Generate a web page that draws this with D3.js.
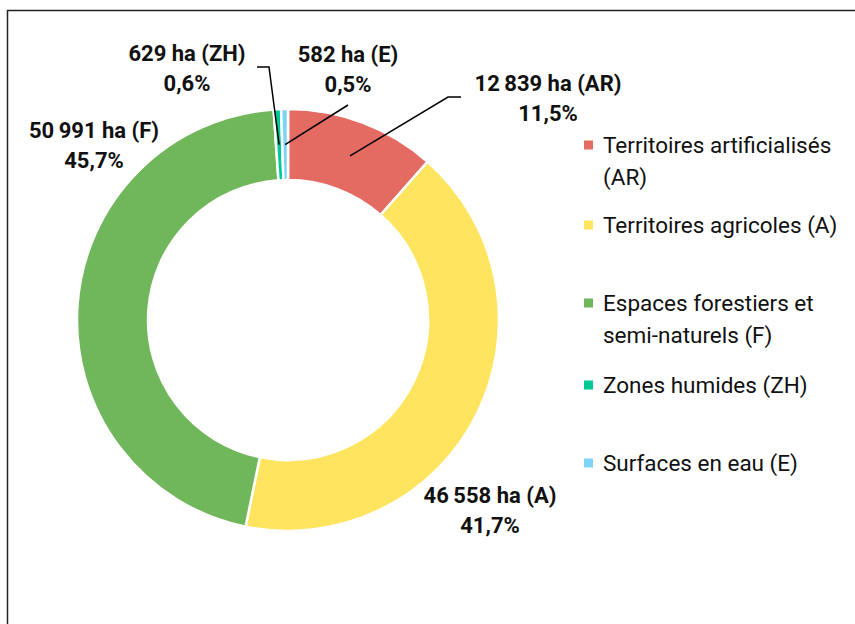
<!DOCTYPE html>
<html>
<head>
<meta charset="utf-8">
<script src="https://cdn.jsdelivr.net/npm/d3@7/dist/d3.min.js"></script>
<style>
  html, body { margin: 0; padding: 0; background: #fff; }
  svg { display: block; }
  .lbl { font-family: Roboto, "Noto Sans", sans-serif; font-weight: 700; font-size: 22px; fill: #111; }
  .leg { font-family: Roboto, "Noto Sans", sans-serif; font-size: 22.5px; fill: #111; }
</style>
</head>
<body>
<script>
// Land cover breakdown (hectares)
const codes = ["AR", "A", "F", "ZH", "E"];
const legendNames = [
  ["Territoires artificialisés", "(AR)"],
  ["Territoires agricoles (A)"],
  ["Espaces forestiers et", "semi-naturels (F)"],
  ["Zones humides (ZH)"],
  ["Surfaces en eau (E)"]
];
const hectares = [12839, 46558, 50991, 629, 582];
const colors = ["#E46B61", "#FFE55F", "#70B65A", "#00C793", "#7FD3F5"];

const W = 855, H = 624;
const cx = 288, cy = 320, rOuter = 211, rInner = 140;

const svg = d3.select("body").append("svg").attr("width", W).attr("height", H);

// chart frame
svg.append("rect")
  .attr("x", 7.5).attr("y", 10.5)
  .attr("width", 900).attr("height", 700)
  .attr("fill", "none").attr("stroke", "#222").attr("stroke-width", 1.5);

const total = d3.sum(hectares);
const data = codes.map((c, i) => ({ code: c, value: hectares[i], color: colors[i] }));

const pie = d3.pie().value(d => d.value).sort(null);
const arcs = pie(data);
const arc = d3.arc().innerRadius(rInner).outerRadius(rOuter);
const midArc = d3.arc().innerRadius((rInner + rOuter) / 2).outerRadius((rInner + rOuter) / 2);

const g = svg.append("g").attr("transform", `translate(${cx},${cy})`);
g.selectAll("path.slice").data(arcs).enter().append("path")
  .attr("class", "slice")
  .attr("d", arc)
  .attr("fill", d => d.data.color)
  .attr("stroke", "#fff")
  .attr("stroke-width", 2.5)
  .attr("stroke-linejoin", "miter");

const fmtHa = v => d3.format(",")(v).replace(/,/g, "\u2009") + " ha";
const fmtPct = v => d3.format(".1f")(v * 100).replace(".", ",") + "%";

// label anchor (centre of text block) and leader elbow, per slice
const labelPos = {
  AR: { x: 548, y: 91, leader: [[461, 97], [448, 97]] },
  A:  { x: 490, y: 503, leader: null },
  F:  { x: 94,  y: 138, leader: null },
  ZH: { x: 187, y: 61, leader: [[257, 67], [269, 67]] },
  E:  { x: 348, y: 62, leader: [[348, 105]] }
};

const line = d3.line();
arcs.forEach(a => {
  const p = labelPos[a.data.code];
  const t = svg.append("text").attr("class", "lbl").attr("text-anchor", "middle");
  t.append("tspan").attr("x", p.x).attr("y", p.y).text(`${fmtHa(a.data.value)} (${a.data.code})`);
  t.append("tspan").attr("x", p.x).attr("y", p.y + 30).text(fmtPct(a.data.value / total));
  if (p.leader) {
    const [mx, my] = midArc.centroid(a);
    const pts = p.leader.concat([[cx + mx, cy + my]]);
    svg.append("path").attr("d", line(pts))
      .attr("fill", "none").attr("stroke", "#000").attr("stroke-width", 1.5);
  }
});

// legend
const legendY = [145, 225, 303, 385, 463];
const leg = svg.append("g");
data.forEach((d, i) => {
  const y = legendY[i];
  leg.append("rect").attr("x", 584).attr("y", y - 4.5).attr("width", 9).attr("height", 9).attr("fill", d.color);
  const t = leg.append("text").attr("class", "leg");
  legendNames[i].forEach((s, j) => {
    t.append("tspan").attr("x", 603).attr("y", y + 8 + j * 32).text(s);
  });
});
</script>
</body>
</html>
